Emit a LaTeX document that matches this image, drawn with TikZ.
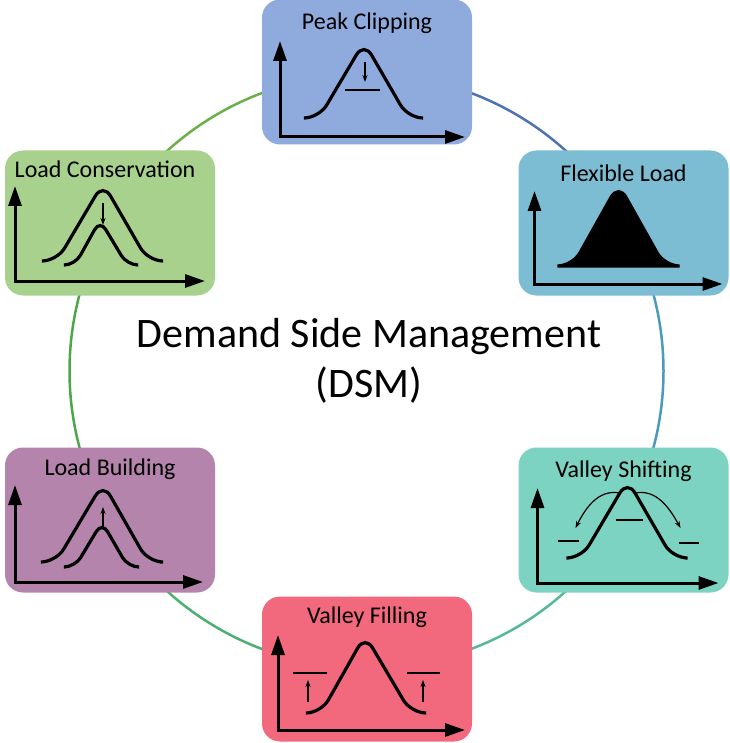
\documentclass[tikz,border=0pt]{standalone}
\usepackage{fontspec}
\setmainfont{Carlito}
\usepackage{xcolor}
\usetikzlibrary{arrows.meta}
\definecolor{pcfill}{HTML}{8FAADC}
\definecolor{flfill}{HTML}{7CBDD3}
\definecolor{vsfill}{HTML}{7DD3C1}
\definecolor{vffill}{HTML}{F2687C}
\definecolor{lbfill}{HTML}{B584AC}
\definecolor{lcfill}{HTML}{A9D18E}
\definecolor{ringa}{HTML}{4F72B2}
\definecolor{ringb}{HTML}{4A9BBA}
\definecolor{ringc}{HTML}{55B89A}
\definecolor{ringd}{HTML}{4DAF72}
\definecolor{ringe}{HTML}{4CA64C}
\definecolor{ringf}{HTML}{6AAF4A}

\begin{document}
\begin{tikzpicture}[x=1pt, y=-1pt,
    box/.style={rounded corners=18pt, minimum width=210pt, minimum height=145pt, inner sep=0pt},
    boxtitle/.style={anchor=base, inner sep=0pt, font=\fontsize{24pt}{28pt}\selectfont},
    ring/.style={line width=2.5pt},
    loadaxes/.style={line width=3pt, {Triangle[length=20pt,width=13pt]}-{Triangle[length=20pt,width=13pt]}},
    bell/.style={line width=3.2pt, rounded corners=15pt, line cap=round},
    smallbell/.style={line width=3.2pt, rounded corners=11pt, line cap=round},
    shiftarrow/.style={line width=1.2pt, -{Stealth[length=7pt,width=5pt]}},
    level/.style={line width=1.8pt}]
    \useasboundingbox (0,0) rectangle (729,743);
    % Ring
    \coordinate (o) at (366.5,371);
    \foreach \a/\b/\c in {90/30/ringa, 30/-30/ringb, -30/-90/ringc, -90/-150/ringd, -150/-210/ringe, 150/90/ringf}
        \draw[ring, \c] ([shift={(\a:297pt)}]o) arc[start angle=\a, end angle=\b, radius=297pt];
    % Boxes
    \node[box, fill=pcfill] (pc) at (367,72) {};
    \node[box, fill=flfill] (fl) at (623.5,223) {};
    \node[box, fill=vsfill] (vs) at (623.5,520) {};
    \node[box, fill=vffill] (vf) at (367,669) {};
    \node[box, fill=lbfill] (lb) at (110,520) {};
    \node[box, fill=lcfill] (lc) at (110,223) {};
    \node[boxtitle] (pct) at ([yshift=-30pt]pc.north) {Peak Clipping};
    \node[boxtitle] (flt) at ([yshift=-31pt]fl.north) {Flexible Load};
    \node[boxtitle] (vst) at ([yshift=-30pt]vs.north) {Valley Shifting};
    \node[boxtitle] (vft) at ([yshift=-27pt]vf.north) {Valley Filling};
    \node[boxtitle] (lbt) at ([yshift=-28pt]lb.north) {Load Building};
    \node[boxtitle] (lct) at ([xshift=-5pt, yshift=-27pt]lc.north) {Load Conservation};
    % Center
    \node[align=center, font=\fontsize{42pt}{50pt}\selectfont] (dsm) at (369,361) {Demand Side Management\\(DSM)};
    % Peak Clipping
    \begin{scope}[shift={(pc.center)}]
        \draw[loadaxes] (-87,-31) -- (-87,65) -- (98,65);
        \draw[bell] (-62,46) -- (-48,46) -- (-3,-30) -- (41,46) -- (55,46);
        \draw[shiftarrow] (-2,-10) -- (-2,10);
        \draw[level] (-22,18) -- (13,18);
    \end{scope}
    % Flexible Load
    \begin{scope}[shift={(fl.center)}]
        \draw[loadaxes] (-89,-32) -- (-89,61) -- (99,61);
        \filldraw[bell] (-65,43) -- (-51,43) -- (-5,-39) -- (41,43) -- (55,43) -- cycle;
    \end{scope}
    % Valley Shifting
    \begin{scope}[shift={(vs.center)}]
        \draw[loadaxes] (-86,-32) -- (-86,63) -- (95,63);
        \draw[bell] (-55,38) -- (-42,38) -- (4,-40) -- (49,38) -- (62,38);
        \draw[level] (-66,21) -- (-45,21);
        \draw[level] (-8,0) -- (19,0);
        \draw[level] (55,23) -- (75,23);
        \draw[shiftarrow] (-4,-27) .. controls (-25,-31) and (-38,-12) .. (-48,8);
        \draw[shiftarrow] (12,-27) .. controls (33,-31) and (46,-12) .. (57,8);
    \end{scope}
    % Valley Filling
    \begin{scope}[shift={(vf.center)}]
        \draw[loadaxes] (-89,-34) -- (-89,61) -- (98,61);
        \draw[bell] (-60,44) -- (-46,44) -- (-2,-34) -- (44,44) -- (58,44);
        \draw[level] (-74,4) -- (-40,4);
        \draw[level] (40,4) -- (73,4);
        \draw[shiftarrow] (-59,33) -- (-59,11);
        \draw[shiftarrow] (56,33) -- (56,11);
    \end{scope}
    % Load Building
    \begin{scope}[shift={(lb.center)}]
        \draw[loadaxes] (-95,-35) -- (-95,62) -- (93,62);
        \draw[bell] (-68,42) -- (-54,42) -- (-7,-37) -- (38,42) -- (50,42);
        \draw[smallbell] (-45,47) -- (-35,47) -- (-8,2) -- (18,47) -- (28,47);
        \draw[shiftarrow] (-7,7) -- (-7,-13);
    \end{scope}
    % Load Conservation
    \begin{scope}[shift={(lc.center)}]
        \draw[loadaxes] (-95,-37) -- (-95,58) -- (95,58);
        \draw[bell] (-67,38) -- (-53,38) -- (-7,-40) -- (38,38) -- (52,38);
        \draw[smallbell] (-45,42) -- (-35,42) -- (-10,-3) -- (17,42) -- (27,42);
        \draw[shiftarrow] (-7,-20) -- (-7,2);
    \end{scope}
\end{tikzpicture}
\end{document}
